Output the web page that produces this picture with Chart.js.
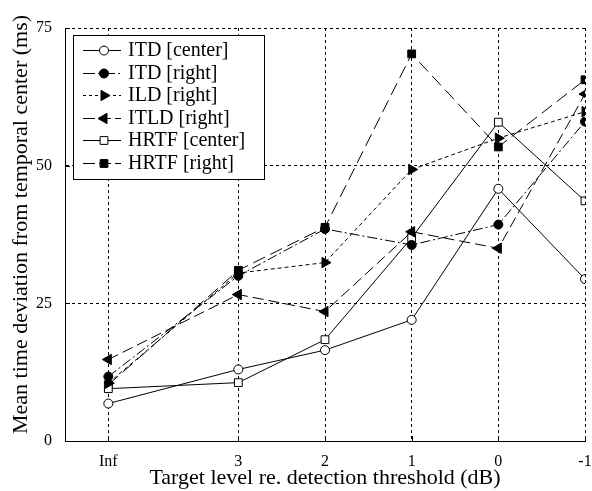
<!DOCTYPE html>
<html><head><meta charset="utf-8">
<script src="https://cdn.jsdelivr.net/npm/chart.js@4/dist/chart.umd.min.js"></script>
<style>html,body{margin:0;padding:0;background:#fff}#wrap{width:592px;height:491px}</style>
</head><body><div id="wrap"><canvas id="c" width="592" height="491"></canvas></div>
<script>
const categories = ["Inf","3","2","1","0","-1"];
const xValues = [4.5, 3, 2, 1, 0, -1];
const yTicks = [0, 25, 50, 75];
const itdCenter = [6.8, 13.0, 16.5, 22.0, 45.8, 29.4];
const itdRight = [11.7, 30.0, 38.5, 35.6, 39.3, 58.0];
const ildRight = [10.5, 30.5, 32.4, 49.3, 55.0, 59.8];
const itldRight = [14.8, 26.6, 23.5, 38.0, 35.0, 63.0];
const hrtfCenter = [9.5, 10.6, 18.4, 36.9, 57.9, 43.6];
const hrtfRight = [10.2, 31.0, 38.8, 70.3, 53.4, 65.6];
const yTitle = 'Mean time deviation from temporal center (ms)';
const xTitle = 'Target level re. detection threshold (dB)';

const SERIF = '"Liberation Serif", "Times New Roman", serif';
const pts = arr => arr.map((v,i)=>({x:xValues[i], y:v}));
const base = {borderColor:'#000', borderWidth:1, pointBorderColor:'#000', pointBorderWidth:1, tension:0, fill:false};
const datasets = [
  Object.assign({}, base, {label:'ITD [center]', data:pts(itdCenter), pointStyle:'circle', pointRadius:4.5, pointBackgroundColor:'#fff', borderDash:[]}),
  Object.assign({}, base, {label:'ITD [right]', data:pts(itdRight), pointStyle:'circle', pointRadius:4.5, pointBackgroundColor:'#000', borderDash:[10,3,2,3]}),
  Object.assign({}, base, {label:'ILD [right]', data:pts(ildRight), pointStyle:'triangle', pointRotation:90, pointRadius:6, pointBackgroundColor:'#000', borderDash:[4,3]}),
  Object.assign({}, base, {label:'ITLD [right]', data:pts(itldRight), pointStyle:'triangle', pointRotation:-90, pointRadius:6, pointBackgroundColor:'#000', borderDash:[11,5]}),
  Object.assign({}, base, {label:'HRTF [center]', data:pts(hrtfCenter), pointStyle:'rect', pointRadius:5.5, pointBackgroundColor:'#fff', borderDash:[]}),
  Object.assign({}, base, {label:'HRTF [right]', data:pts(hrtfRight), pointStyle:'rect', pointRadius:5.5, pointBackgroundColor:'#000', borderDash:[13,6]})
];

const legendDash = [[], [12,3,2,3], [3,3], [12,4], [], [12,4]];

const extras = {
  id:'extras',
  afterDraw(chart){
    const ctx = chart.ctx, a = chart.chartArea;
    const xs = chart.scales.x, ys = chart.scales.y;
    ctx.save();
    ctx.strokeStyle='#000'; ctx.lineWidth=1; ctx.setLineDash([]);
    // inward ticks
    ctx.beginPath();
    xValues.forEach(v=>{const px=Math.round(xs.getPixelForValue(v))+0.5; ctx.moveTo(px,a.bottom); ctx.lineTo(px,a.bottom-5);});
    yTicks.forEach(v=>{const py=Math.round(ys.getPixelForValue(v))+0.5; ctx.moveTo(a.left,py); ctx.lineTo(a.left+5,py);});
    ctx.stroke();
    // y title
    ctx.save();
    ctx.translate(21, (a.top + a.bottom)/2 - 10);
    ctx.rotate(-Math.PI/2);
    ctx.fillStyle='#000'; ctx.textAlign='center'; ctx.textBaseline='middle';
    ctx.font = '22px ' + SERIF;
    ctx.fillText(yTitle, 0, 0);
    ctx.restore();
    // legend
    const L = a.left+8, T = a.top+7, W = 191, H = 144;
    ctx.fillStyle='#fff'; ctx.fillRect(L,T,W,H);
    ctx.strokeRect(L+0.5,T+0.5,W,H);
    ctx.font = '20px ' + SERIF;
    ctx.textBaseline='middle'; ctx.textAlign='left';
    chart.data.datasets.forEach((ds,i)=>{
      const y = Math.round(T + 15 + i*22.6);
      ctx.setLineDash(legendDash[i]);
      ctx.beginPath(); ctx.moveTo(L+10,y+0.5); ctx.lineTo(L+48,y+0.5); ctx.stroke();
      ctx.setLineDash([]);
      const cx = L+31;
      ctx.fillStyle = ds.pointBackgroundColor;
      Chart.helpers.drawPoint(ctx, {pointStyle:ds.pointStyle, rotation:ds.pointRotation||0, radius:ds.pointRadius, borderWidth:1}, cx, y+0.5);
      ctx.fillStyle='#000';
      ctx.fillText(ds.label, L+55, y+1);
    });
    ctx.restore();
  }
};

new Chart(document.getElementById('c'), {
  type:'line',
  data:{datasets},
  plugins:[extras],
  options:{
    responsive:false, animation:false, devicePixelRatio:1,
    layout:{padding:{top:28, right:2, left:0, bottom:0}},
    plugins:{legend:{display:false}, tooltip:{enabled:false}},
    scales:{
      x:{
        type:'linear', reverse:true, min:-1, max:5,
        afterBuildTicks(s){ s.ticks = xValues.map(v=>({value:v})); },
        afterFit(s){ s.height = 50; s.paddingLeft = 0; s.paddingRight = 0; },
        ticks:{color:'#000', maxRotation:0, autoSkip:false, padding:11,
          font:{family:SERIF, size:16},
          callback(v){ const i = xValues.indexOf(v); return i>=0 ? categories[i] : ''; }},
        grid:{color:'#000', lineWidth:1, drawTicks:false},
        border:{color:'#000', width:1, dash:[3,3]},
        title:{display:true, text:xTitle, color:'#000',
          font:{family:SERIF, size:22}, padding:{top:0,bottom:0}}
      },
      y:{
        type:'linear', min:0, max:75,
        afterBuildTicks(s){ s.ticks = yTicks.map(v=>({value:v})); },
        afterFit(s){ s.width = 65; },
        ticks:{color:'#000', padding:13, font:{family:SERIF, size:16}},
        grid:{color:'#000', lineWidth:1, drawTicks:false},
        border:{color:'#000', width:1, dash:[3,3]},
        title:{display:false}
      }
    }
  }
});
</script></body></html>
